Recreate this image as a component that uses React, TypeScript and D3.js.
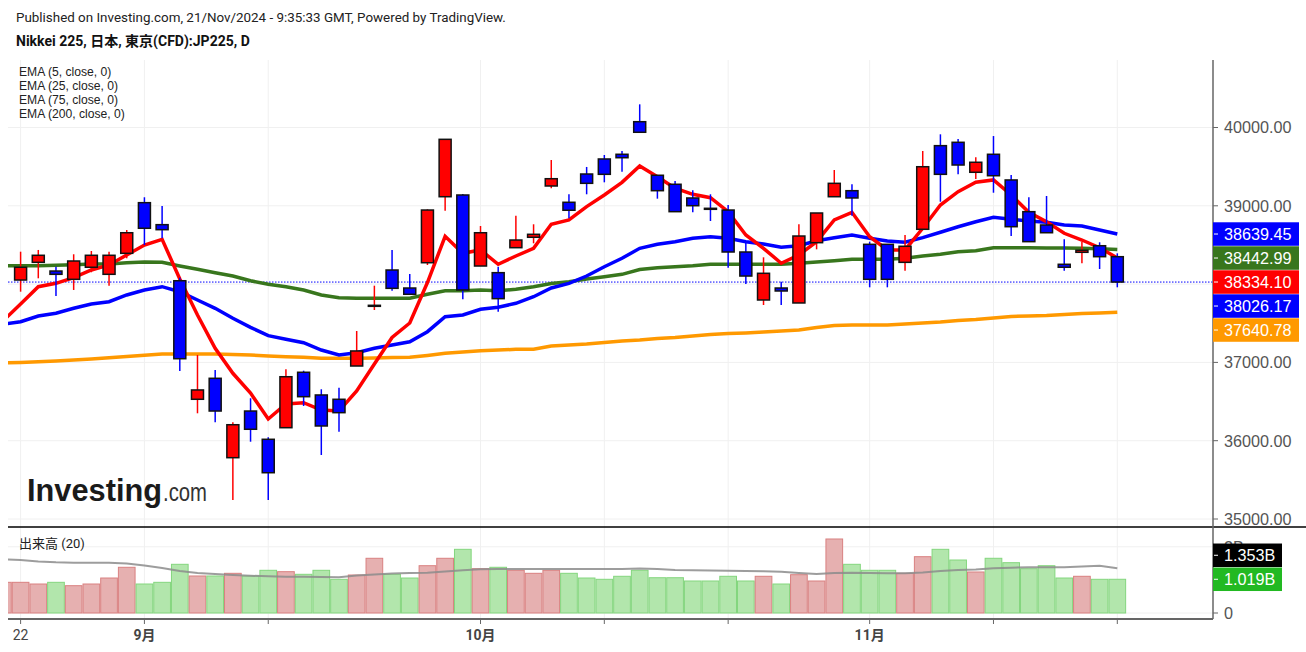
import React from 'react'
import * as d3 from 'd3'

const W = 1306
const H = 652

// trading-day index of the x axis ticks (0 = 22 Aug)
const dayTicks = [0, 7, 14, 26, 33, 40, 48, 55, 62]
const dayTickLabels = ['22', '9月', '', '10月', '', '', '11月', '', '']

// daily candles, index 0..62
const opens = [38052, 38278, 38167, 38061, 38215, 38125, 38393, 39040, 38759, 38043, 36529, 36797, 35783, 36379, 36018, 36166, 36874, 36584, 36529, 36954, 37717, 38180, 37950, 38273, 39116, 39138, 38231, 38146, 38465, 38598, 39253, 39045, 39406, 39598, 39658, 40074, 39390, 39275, 39100, 38968, 38946, 38410, 37797, 37950, 37759, 38529, 39116, 39193, 38508, 38508, 38278, 38700, 39768, 39811, 39428, 39658, 39330, 38925, 38755, 38253, 38406, 38490, 38350]
const highs = [38414, 38436, 38222, 38381, 38423, 38414, 38691, 39109, 38997, 38082, 37095, 36903, 36235, 36542, 36043, 36912, 36894, 36657, 36677, 37401, 37980, 38436, 38129, 38955, 39849, 39151, 38742, 38222, 38874, 38764, 39585, 39147, 39496, 39649, 39700, 40296, 39390, 39317, 39198, 39147, 39010, 38529, 38342, 38031, 38764, 38908, 39457, 39275, 38542, 38508, 38627, 39700, 39913, 39853, 39619, 39891, 39393, 39109, 39125, 38572, 38542, 38534, 38393]
const lows = [37903, 38074, 37848, 37925, 38151, 37980, 38330, 38499, 38585, 36890, 36350, 36235, 35243, 35987, 35243, 36166, 36443, 35817, 36115, 36954, 37669, 37916, 37870, 38244, 38937, 37806, 38231, 37648, 38465, 38521, 39224, 38840, 39147, 39300, 39435, 39939, 39091, 38925, 38917, 38806, 38209, 38001, 37733, 37733, 37759, 38444, 39116, 38874, 37959, 37959, 38171, 38700, 39052, 39402, 39342, 39167, 38614, 38542, 38656, 38171, 38266, 38193, 37959]
const closes = [38215, 38368, 38125, 38295, 38368, 38368, 38656, 38713, 38695, 37047, 36648, 36379, 36204, 36146, 35591, 36817, 36562, 36188, 36358, 37146, 37729, 37946, 37870, 38946, 39849, 37925, 38656, 37814, 38563, 38636, 39346, 38943, 39287, 39402, 39614, 39939, 39193, 38925, 39001, 38959, 38410, 38103, 38138, 37912, 38614, 38908, 39287, 39100, 38061, 38061, 38483, 39499, 39402, 39521, 39556, 39384, 38733, 38542, 38656, 38215, 38432, 38350, 38026.17]

// indicator and volume series start one day earlier (index -1, clipped at the left edge)
const ema5 = [37529, 37746, 37967, 38010, 38082, 38180, 38244, 38372, 38499, 38572, 38065, 37605, 37180, 36861, 36609, 36277, 36469, 36485, 36392, 36379, 36635, 36980, 37318, 37503, 38020, 38610, 38393, 38436, 38253, 38359, 38457, 38764, 38819, 38989, 39138, 39300, 39508, 39372, 39224, 39147, 39103, 38925, 38627, 38457, 38266, 38372, 38542, 38819, 38917, 38605, 38436, 38436, 38713, 39010, 39180, 39300, 39330, 39138, 38917, 38797, 38649, 38563, 38465, 38334.1]
const ema25 = [37487, 37520, 37593, 37627, 37691, 37746, 37775, 37861, 37925, 37967, 37903, 37797, 37691, 37563, 37448, 37341, 37295, 37252, 37158, 37095, 37124, 37180, 37222, 37264, 37392, 37584, 37605, 37678, 37704, 37755, 37839, 37950, 38010, 38103, 38222, 38330, 38457, 38508, 38542, 38585, 38605, 38585, 38542, 38512, 38470, 38490, 38554, 38593, 38627, 38585, 38550, 38534, 38593, 38662, 38733, 38797, 38853, 38828, 38806, 38789, 38755, 38742, 38691, 38639.45]
const ema75 = [38235, 38235, 38235, 38240, 38248, 38257, 38257, 38273, 38282, 38278, 38231, 38189, 38146, 38103, 38043, 37997, 37967, 37925, 37861, 37826, 37819, 37819, 37819, 37819, 37870, 37916, 37916, 37925, 37916, 37934, 37967, 38008, 38031, 38065, 38095, 38125, 38187, 38210, 38222, 38235, 38253, 38253, 38253, 38253, 38253, 38266, 38282, 38299, 38317, 38317, 38317, 38330, 38359, 38381, 38414, 38427, 38465, 38465, 38465, 38461, 38461, 38457, 38452, 38442.99]
const ema200 = [36992, 36999, 37009, 37018, 37031, 37043, 37060, 37075, 37091, 37107, 37107, 37107, 37107, 37101, 37095, 37082, 37073, 37065, 37052, 37052, 37052, 37056, 37063, 37065, 37088, 37116, 37133, 37149, 37158, 37167, 37167, 37210, 37222, 37235, 37254, 37273, 37286, 37305, 37318, 37337, 37356, 37369, 37376, 37388, 37401, 37414, 37446, 37471, 37478, 37478, 37478, 37490, 37503, 37516, 37535, 37548, 37567, 37586, 37593, 37599, 37612, 37625, 37631, 37640.78]

// volume in billions
const volumes = [0.927, 0.927, 0.876, 0.927, 0.825, 0.876, 1.057, 1.381, 0.876, 0.927, 1.471, 1.118, 1.118, 1.199, 1.118, 1.29, 1.248, 1.169, 1.29, 1.018, 1.148, 1.653, 1.169, 1.057, 1.429, 1.653, 1.924, 1.338, 1.381, 1.29, 1.199, 1.29, 1.199, 1.057, 1.018, 1.109, 1.29, 1.066, 1.066, 0.967, 0.967, 1.109, 0.967, 1.109, 0.876, 1.157, 0.967, 2.236, 1.471, 1.29, 1.29, 1.199, 1.701, 1.924, 1.601, 1.239, 1.653, 1.52, 1.338, 1.429, 1.057, 1.109, 1.018, 1.019]
const volumeUp = [true, true, true, false, true, true, true, true, false, false, false, true, false, true, false, false, true, false, false, false, true, true, false, false, true, true, false, true, false, true, true, true, false, false, false, false, false, false, false, false, false, false, false, true, false, true, true, true, false, false, false, true, true, false, false, true, false, false, false, false, false, true, false, false]
const volumeMA = [1.622, 1.601, 1.556, 1.532, 1.52, 1.52, 1.52, 1.495, 1.435, 1.36, 1.269, 1.208, 1.178, 1.148, 1.127, 1.109, 1.097, 1.097, 1.088, 1.079, 1.133, 1.163, 1.193, 1.208, 1.218, 1.254, 1.29, 1.32, 1.329, 1.329, 1.329, 1.329, 1.329, 1.329, 1.329, 1.329, 1.344, 1.329, 1.299, 1.29, 1.284, 1.278, 1.269, 1.26, 1.248, 1.208, 1.178, 1.208, 1.218, 1.208, 1.199, 1.199, 1.224, 1.269, 1.299, 1.314, 1.35, 1.369, 1.381, 1.381, 1.381, 1.405, 1.429, 1.353]

const legendLabels = ['EMA (5, close, 0)', 'EMA (25, close, 0)', 'EMA (75, close, 0)', 'EMA (200, close, 0)']
const priceTicks = [35000, 36000, 37000, 38000, 39000, 40000]
const volumeTicks = [0, 2]

const RED = '#ff0000'
const BLUE = '#0000ff'
const GREEN = '#38761d'
const ORANGE = '#ff9900'
const FONT = "'Liberation Sans', Arial, sans-serif"
const CJK = "Roboto, 'Noto Sans CJK JP', sans-serif"

const left = 8
const axisX = 1213
const priceTop = 60
const paneSplit = 527
const volBottom = 619

export default function App() {
  const x = d3.scaleLinear().domain([0, 62]).range([20.6, 1117.3])
  const step = x(1) - x(0)
  const y = d3.scaleLinear().domain([35000, 40000]).range([519, 127.5])
  const yv = d3.scaleLinear().domain([0, 2]).range([613, 546.8])
  const fmt = d3.format('.2f')

  const line = d3
    .line<number>()
    .x((_, i) => x(i - 1))
    .y((d) => y(d))
  const vline = d3
    .line<number>()
    .x((_, i) => x(i - 1))
    .y((d) => yv(d))

  const last = closes.length - 1
  // right side value labels, stacked downwards when they overlap
  const priceLabels = [
    { v: ema25[ema25.length - 1], c: BLUE },
    { v: ema75[ema75.length - 1], c: GREEN },
    { v: ema5[ema5.length - 1], c: RED },
    { v: closes[last], c: closes[last] >= opens[last] ? RED : BLUE },
    { v: ema200[ema200.length - 1], c: ORANGE },
  ]
    .map((d) => ({ ...d, y: y(d.v) }))
    .sort((a, b) => a.y - b.y)
  for (let i = 1; i < priceLabels.length; i++) {
    priceLabels[i].y = Math.max(priceLabels[i].y, priceLabels[i - 1].y + 24)
  }
  const volLabels = [
    { v: volumes[volumes.length - 1], c: '#22b922', t: '1.019B' },
    { v: volumeMA[volumeMA.length - 1], c: '#000000', t: '1.353B' },
  ].map((d) => ({ ...d, y: yv(d.v) }))
  volLabels.sort((a, b) => b.y - a.y)
  for (let i = 1; i < volLabels.length; i++) {
    volLabels[i].y = Math.min(volLabels[i].y, volLabels[i - 1].y - 24)
  }

  return (
    <svg
      width={W}
      height={H}
      style={{ position: 'absolute', left: 0, top: 0, background: '#fff' }}
    >
      <defs>
        <clipPath id="pclip">
          <rect x={left} y={priceTop} width={axisX - left} height={paneSplit - priceTop} />
        </clipPath>
        <clipPath id="vclip">
          <rect x={left} y={paneSplit} width={axisX - left} height={volBottom - paneSplit} />
        </clipPath>
      </defs>
      <rect width={W} height={H} fill="#fff" />

      <text x={16} y={22} fontFamily="Roboto, sans-serif" fontSize={13.4} fill="#222">
        Published on Investing.com, 21/Nov/2024 - 9:35:33 GMT, Powered by TradingView.
      </text>
      <text x={16} y={46} fontFamily={CJK} fontSize={14} fontWeight="bold" fill="#111">
        Nikkei 225, 日本, 東京(CFD):JP225, D
      </text>

      {/* grid */}
      {dayTicks.map((t) => (
        <line key={'vg' + t} x1={x(t)} x2={x(t)} y1={priceTop} y2={volBottom} stroke="#f0f0f0" />
      ))}
      {priceTicks.map((p) => (
        <line key={'hg' + p} x1={left} x2={axisX} y1={y(p)} y2={y(p)} stroke="#f0f0f0" />
      ))}
      {volumeTicks.map((v) => (
        <line key={'vhg' + v} x1={left} x2={axisX} y1={yv(v)} y2={yv(v)} stroke="#f0f0f0" />
      ))}

      {/* logo */}
      <text x={27} y={501} fontFamily={FONT} fontSize={32} fontWeight="bold" fill="#1a1a1a" textLength={135} lengthAdjust="spacingAndGlyphs">
        Investing
      </text>
      <text x={163} y={501} fontFamily={FONT} fontSize={25} fill="#333" textLength={44} lengthAdjust="spacingAndGlyphs">
        .com
      </text>

      <g clipPath="url(#pclip)">
        <line x1={left} x2={axisX} y1={y(closes[last])} y2={y(closes[last])} stroke={BLUE} strokeDasharray="1.5,1.5" />
        <path d={line(ema200) || ''} fill="none" stroke={ORANGE} strokeWidth={3.5} />
        <path d={line(ema75) || ''} fill="none" stroke={GREEN} strokeWidth={3.5} />
        <path d={line(ema25) || ''} fill="none" stroke={BLUE} strokeWidth={3.5} />
        <path d={line(ema5) || ''} fill="none" stroke={RED} strokeWidth={3.5} />
        {closes.map((c, i) => {
          const o = opens[i]
          const up = c >= o
          const col = up ? RED : BLUE
          const top = y(Math.max(o, c))
          const bot = y(Math.min(o, c))
          return (
            <g key={'c' + i}>
              <line x1={x(i)} x2={x(i)} y1={y(highs[i])} y2={y(lows[i])} stroke={col} strokeWidth={1.5} />
              <rect
                x={x(i) - 6}
                y={top}
                width={12}
                height={Math.max(bot - top, 1)}
                fill={col}
                stroke="#111"
                strokeWidth={1.5}
              />
            </g>
          )
        })}
      </g>

      <g transform="translate(19,0) scale(0.9,1)">
        {legendLabels.map((l, i) => (
          <text key={l} x={0} y={76 + i * 14} fontFamily={FONT} fontSize={13.5} fill="#222">
            {l}
          </text>
        ))}
      </g>

      {/* volume pane */}
      <g clipPath="url(#vclip)">
        {volumes.map((v, i) => {
          const up = volumeUp[i]
          return (
            <rect
              key={'v' + i}
              x={x(i - 1) - step / 2 + 0.5}
              y={yv(v)}
              width={step - 1}
              height={yv(0) - yv(v)}
              fill={up ? '#e6b0b0' : '#b2e6ac'}
              stroke={up ? '#d98080' : '#84d67e'}
              strokeWidth={1}
            />
          )
        })}
        <path d={vline(volumeMA) || ''} fill="none" stroke="#8c8c8c" strokeOpacity={0.85} strokeWidth={2} />
      </g>
      <text x={19} y={548} fontFamily={CJK} fontSize={13} fill="#222">
        出来高 (20)
      </text>

      {/* frames */}
      <line x1={left} x2={W} y1={paneSplit} y2={paneSplit} stroke="#000" strokeWidth={1.5} />
      <line x1={axisX} x2={axisX} y1={priceTop} y2={volBottom} stroke="#666" strokeWidth={1.5} />
      <line x1={left} x2={axisX} y1={volBottom} y2={volBottom} stroke="#666" strokeWidth={2} />

      {/* price axis */}
      {priceTicks.map((p) => (
        <g key={'pt' + p}>
          <line x1={axisX} x2={axisX + 5} y1={y(p)} y2={y(p)} stroke="#666" />
          <text x={axisX + 11} y={y(p)} dy="0.36em" fontFamily={FONT} fontSize={16.2} fill="#555">
            {fmt(p)}
          </text>
        </g>
      ))}
      {priceLabels.map((d) => (
        <g key={'pl' + d.v}>
          <rect x={axisX} y={d.y - 11.75} width={86} height={23.5} fill={d.c} />
          <line x1={axisX + 1} x2={axisX + 5} y1={d.y} y2={d.y} stroke="#fff" />
          <text x={axisX + 11} y={d.y} dy="0.36em" fontFamily={FONT} fontSize={16.2} fill="#fff">
            {fmt(d.v)}
          </text>
        </g>
      ))}

      {/* volume axis */}
      {volumeTicks.map((v) => (
        <g key={'vt' + v}>
          <line x1={axisX} x2={axisX + 5} y1={yv(v)} y2={yv(v)} stroke="#666" />
          <text x={axisX + 11} y={yv(v)} dy="0.36em" fontFamily={FONT} fontSize={16.2} fill="#555">
            {v === 0 ? '0' : v + 'B'}
          </text>
        </g>
      ))}
      {volLabels.map((d) => (
        <g key={'vl' + d.t}>
          <rect x={axisX} y={d.y - 11.75} width={69} height={23.5} fill={d.c} />
          <line x1={axisX + 1} x2={axisX + 5} y1={d.y} y2={d.y} stroke="#fff" />
          <text x={axisX + 11} y={d.y} dy="0.36em" fontFamily={FONT} fontSize={16.2} fill="#fff">
            {d.t}
          </text>
        </g>
      ))}

      {/* time axis */}
      {dayTicks.map((t, i) => (
        <g key={'dt' + t}>
          <line x1={x(t)} x2={x(t)} y1={volBottom} y2={volBottom + 5} stroke="#666" />
          <text
            x={x(t)}
            y={640}
            textAnchor="middle"
            fontFamily={CJK}
            fontSize={14}
            fontWeight={dayTickLabels[i] === '22' ? 'normal' : 'bold'}
            fill="#444"
          >
            {dayTickLabels[i]}
          </text>
        </g>
      ))}
    </svg>
  )
}
